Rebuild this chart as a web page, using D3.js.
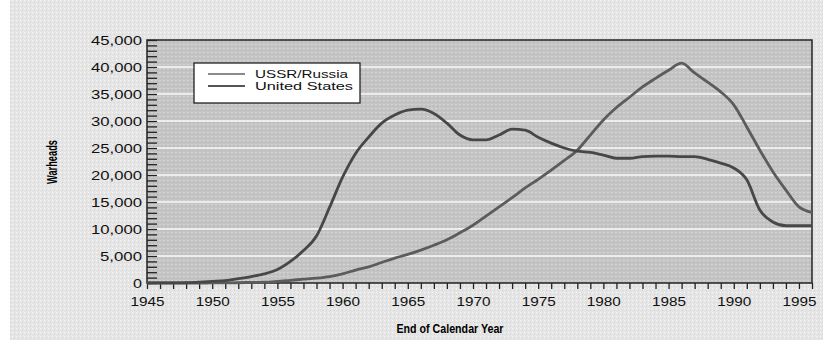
<!DOCTYPE html>
<html>
<head>
<meta charset="utf-8">
<script src="https://d3js.org/d3.v7.min.js"></script>
<style>
  body { margin: 0; background: #fff; }
  text { font-family: "Liberation Sans", Arial, sans-serif; }
</style>
</head>
<body>
<svg id="drawing_region"></svg>
<script>
// warhead stockpiles (end of calendar year)
const years = d3.range(1945, 1997);
const us_values = [
  0, 10, 15, 50, 170, 300, 450, 800, 1200, 1700,
  2500, 4000, 6000, 8700, 14000, 19600, 24000, 27000, 29600, 31100,
  32000, 32200, 31400, 29600, 27400, 26500, 26500, 27400, 28500, 28300,
  27000, 25900, 25000, 24400, 24200, 23700, 23100, 23100, 23400, 23500,
  23500, 23400, 23400, 22900, 22200, 21300, 19100, 13500, 11300, 10600,
  10600, 10600
];
const ussr_values = [
  0, 0, 0, 0, 0, 5, 25, 50, 120, 150,
  300, 500, 700, 900, 1200, 1700, 2400, 3000, 3800, 4600,
  5300, 6100, 7000, 8000, 9300, 10700, 12400, 14100, 15800, 17600,
  19200, 20900, 22700, 24600, 27400, 30200, 32500, 34400, 36300, 37900,
  39400, 40700, 38900, 37200, 35400, 33000, 28900, 24600, 20600, 17200,
  14100, 13100
];
const series_names = ["USSR/Russia", "United States"];
const y_ticks = [0, 5000, 10000, 15000, 20000, 25000, 30000, 35000, 40000, 45000];
const x_ticks = [1945, 1950, 1955, 1960, 1965, 1970, 1975, 1980, 1985, 1990, 1995];

class WarheadChart {

  constructor( config, data ) {
    this.config = {
      parent: config.parent,
      width: config.width || 823,
      height: config.height || 347,
      margin: config.margin || {top: 40, right: 11, bottom: 64, left: 147}
    }
    this.data = data;
    this.init();
  }

  init() {
    let self = this;

    self.svg = d3.select( self.config.parent )
      .attr('width', self.config.width)
      .attr('height', self.config.height);

    self.inner_width = self.config.width - self.config.margin.left - self.config.margin.right;
    self.inner_height = self.config.height - self.config.margin.top - self.config.margin.bottom;

    // dotted fills like the old bitmap
    const defs = self.svg.append('defs');
    const page = defs.append('pattern').attr('id', 'page_fill')
      .attr('width', 4).attr('height', 4).attr('patternUnits', 'userSpaceOnUse');
    page.append('rect').attr('width', 4).attr('height', 4).attr('fill', '#e5e5e5');
    page.append('rect').attr('width', 1).attr('height', 1).attr('fill', '#f8f8f8');
    page.append('rect').attr('x', 2).attr('y', 2).attr('width', 1).attr('height', 1).attr('fill', '#d4d4d4');
    const plot = defs.append('pattern').attr('id', 'plot_fill')
      .attr('width', 4).attr('height', 4).attr('patternUnits', 'userSpaceOnUse');
    plot.append('rect').attr('width', 4).attr('height', 4).attr('fill', '#c4c4c4');
    plot.append('rect').attr('width', 2).attr('height', 1).attr('fill', '#d4d4d4');
    plot.append('rect').attr('x', 2).attr('y', 2).attr('width', 1).attr('height', 1).attr('fill', '#b4b4b4');

    self.svg.append('rect')
      .attr('x', 10).attr('y', 0)
      .attr('width', self.config.width - 10).attr('height', 340)
      .attr('fill', 'url(#page_fill)');

    self.chart = self.svg.append('g')
      .attr('transform', `translate(${self.config.margin.left}, ${self.config.margin.top})`);

    self.xscale = d3.scaleLinear()
      .domain( [1945, 1996] )
      .range( [0, self.inner_width] );

    self.yscale = d3.scaleLinear()
      .domain( [0, 45000] )
      .range( [self.inner_height, 0] );
  }

  render() {
    let self = this;

    self.chart.append('rect')
      .attr('width', self.inner_width)
      .attr('height', self.inner_height)
      .attr('fill', 'url(#plot_fill)');

    // white grid
    self.chart.selectAll('.grid')
      .data(y_ticks.slice(1, -1))
      .enter()
      .append('line')
      .attr('x1', 0).attr('x2', self.inner_width)
      .attr('y1', d => self.yscale(d)).attr('y2', d => self.yscale(d))
      .attr('stroke', '#fafafa').attr('stroke-width', 1.5);

    // minor y ticks pointing inward
    self.chart.append('g')
      .call( d3.axisRight(self.yscale).tickValues(d3.range(0, 45001, 1000)).tickSize(10).tickFormat('') )
      .call(g => g.select('.domain').remove())
      .selectAll('line').attr('stroke', '#222').attr('stroke-width', 1.3);

    // y labels, stretched wide like the bitmap font
    self.chart.append('g')
      .call( d3.axisLeft(self.yscale).tickValues(y_ticks).tickSize(0).tickPadding(5).tickFormat(d3.format(',')) )
      .call(g => g.select('.domain').remove())
      .selectAll('text')
      .attr('font-size', 13).attr('fill', '#111')
      .attr('textLength', d => d === 0 ? 9 : (d < 10000 ? 42 : 51))
      .attr('lengthAdjust', 'spacingAndGlyphs');

    // x axis with a tick per year
    self.chart.append('g')
      .attr('transform', `translate(0,${self.inner_height})`)
      .call( d3.axisBottom(self.xscale).tickValues(years).tickSize(6).tickFormat('') )
      .call(g => g.select('.domain').remove())
      .selectAll('line').attr('stroke', '#222').attr('stroke-width', 1.3);

    self.chart.append('g')
      .attr('transform', `translate(0,${self.inner_height})`)
      .call( d3.axisBottom(self.xscale).tickValues(x_ticks).tickSize(0).tickPadding(14).tickFormat(d3.format('d')) )
      .call(g => g.select('.domain').remove())
      .selectAll('text')
      .attr('font-size', 13).attr('fill', '#111')
      .attr('textLength', 34).attr('lengthAdjust', 'spacingAndGlyphs');

    // plot frame
    self.chart.append('rect')
      .attr('width', self.inner_width)
      .attr('height', self.inner_height)
      .attr('fill', 'none')
      .attr('stroke', '#222').attr('stroke-width', 1.5);

    const line = d3.line()
      .x(d => self.xscale(d.year))
      .y(d => self.yscale(d.value))
      .curve(d3.curveMonotoneX);

    self.chart.selectAll('.series')
      .data(self.data)
      .enter()
      .append('path')
      .attr('d', d => line(d.values))
      .attr('fill', 'none')
      .attr('stroke', d => d.color)
      .attr('stroke-width', 2.8);

    // legend
    const legend = self.svg.append('g').attr('transform', 'translate(194,63)');
    legend.append('rect')
      .attr('width', 166).attr('height', 40)
      .attr('fill', '#fff').attr('stroke', '#222').attr('stroke-width', 1.3);
    const item = legend.selectAll('.item')
      .data(self.data)
      .enter()
      .append('g')
      .attr('transform', (d, i) => `translate(0,${11 + i * 12})`);
    item.append('line')
      .attr('x1', 14).attr('x2', 51)
      .attr('stroke', d => d.key_color).attr('stroke-width', 2.2);
    item.append('text')
      .attr('x', 61).attr('y', 4)
      .attr('font-size', 11.5).attr('fill', '#111')
      .attr('textLength', d => d.label_len).attr('lengthAdjust', 'spacingAndGlyphs')
      .text(d => d.name);

    self.svg.append('text')
      .attr('x', 450).attr('y', 333)
      .attr('text-anchor', 'middle')
      .attr('font-size', 12).attr('font-weight', 'bold')
      .attr('textLength', 107).attr('lengthAdjust', 'spacingAndGlyphs')
      .text('End of Calendar Year');

    self.svg.append('text')
      .attr('transform', 'translate(57,162) rotate(-90)')
      .attr('text-anchor', 'middle')
      .attr('font-size', 14).attr('font-weight', 'bold')
      .attr('textLength', 44).attr('lengthAdjust', 'spacingAndGlyphs')
      .text('Warheads');
  }
}

const data = [
  { name: series_names[0], color: '#5c5c5c', key_color: '#8a8a8a', label_len: 93,
    values: years.map((y, i) => ({year: y, value: ussr_values[i]})) },
  { name: series_names[1], color: '#474747', key_color: '#555', label_len: 98,
    values: years.map((y, i) => ({year: y, value: us_values[i]})) }
];

const chart = new WarheadChart({ parent: '#drawing_region', width: 823, height: 347 }, data);
chart.render();
</script>
</body>
</html>
